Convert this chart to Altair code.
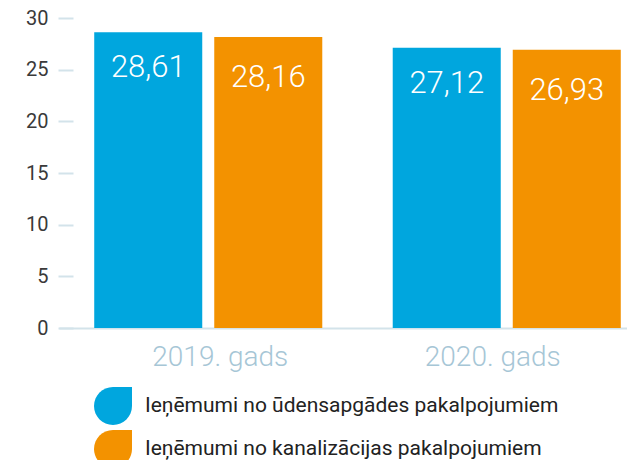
import altair as alt
import pandas as pd

years = ["2019. gads", "2020. gads"]
series = ["Ieņēmumi no ūdensapgādes pakalpojumiem", "Ieņēmumi no kanalizācijas pakalpojumiem"]
water = [28.61, 27.12]
sewer = [28.16, 26.93]
colors = ["#00A6DE", "#F39200"]
y_ticks = [0, 5, 10, 15, 20, 25, 30]

rows = []
for i, yr in enumerate(years):
    rows.append({"year": yr, "series": series[0], "value": water[i], "label": f"{water[i]:.2f}".replace(".", ",")})
    rows.append({"year": yr, "series": series[1], "value": sewer[i], "label": f"{sewer[i]:.2f}".replace(".", ",")})
df = pd.DataFrame(rows)

x = alt.X("year:N", sort=years, title=None,
          scale=alt.Scale(range=[0, 597], paddingInner=0.236, paddingOuter=0.118),
          axis=alt.Axis(labelAngle=0, ticks=False, domain=True, domainColor="#d3e3ea", domainWidth=2,
                        labelFont="Roboto", labelFontSize=28, labelFontWeight=300,
                        labelColor="#a6c6d6", labelPadding=15,
                        labelOffset={"condition": {"test": f"datum.value == '{years[0]}'", "value": 12},
                                     "value": -14}))
xo = alt.XOffset("series:N", sort=series, scale=alt.Scale(paddingInner=0.1, paddingOuter=0))
y = alt.Y("value:Q", title=None, scale=alt.Scale(domain=[0, 30], nice=False),
          axis=alt.Axis(values=y_ticks, grid=False, domain=False, offset=-14, tickSize=15,
                        tickColor="#d3e3ea", tickWidth=2, labelPadding=10,
                        labelFont="Roboto", labelFontSize=20, labelColor="#3a3a3a"))

drop = "M0,-1 L1,-1 L1,0 A1,1 0 0,1 0,1 A1,1 0 0,1 -1,0 A1,1 0 0,1 0,-1 Z"
color = alt.Color("series:N", sort=series, scale=alt.Scale(domain=series, range=colors),
                  legend=alt.Legend(title=None, orient="none", legendX=35, legendY=369,
                                    direction="vertical", symbolType=drop, symbolSize=1444,
                                    symbolStrokeWidth=0, rowPadding=5, labelOffset=13,
                                    labelFont="Roboto", labelFontSize=21, labelColor="#222222",
                                    labelLimit=600))

bars = alt.Chart(df).mark_bar().encode(x=x, xOffset=xo, y=y, color=color)

def labels(s, dy):
    return alt.Chart(df).transform_filter(alt.datum.series == s).mark_text(
        baseline="alphabetic", dy=dy, font="Roboto", fontSize=31, fontWeight=300, color="white"
    ).encode(x=x, xOffset=xo, y=y, text="label:N")

chart = alt.layer(bars, labels(series[0], 45), labels(series[1], 50)).properties(
    width=568, height=310,
    autosize=alt.AutoSizeParams(type="none"),
    padding={"left": 51, "top": 10, "right": 0, "bottom": 132},
).configure_view(stroke=None)

chart.save("out.html", embed_options={"renderer": "svg", "actions": False})
